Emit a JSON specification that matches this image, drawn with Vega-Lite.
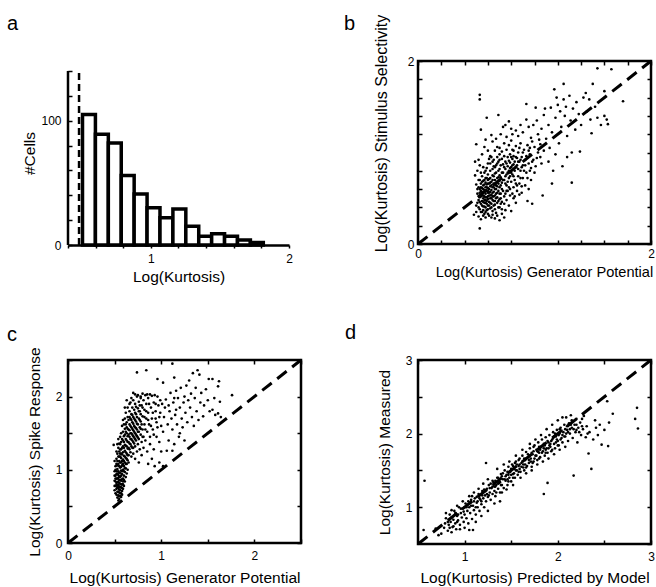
{
"$schema":"https://vega.github.io/schema/vega-lite/v6.json",
"padding":{"left":5,"top":13,"right":0,"bottom":0},
"config":{"font":"Liberation Sans","view":{"stroke":null},
"axis":{"grid":false,"domainColor":"black","tickColor":"black","labelColor":"black","titleColor":"black","labelFontSize":12,"titleFontSize":15.5,"titleFontWeight":"normal","labelFont":"Liberation Sans","titleFont":"Liberation Sans","tickWidth":1.5,"labelFlush":false,"labelOverlap":false,"labelBound":false},
"title":{"fontSize":20,"fontWeight":"normal","anchor":"start","frame":"group","color":"black","font":"Liberation Sans"}},
"datasets":{
"hist":[{"x":0.505,"x2":0.5985,"y":105},{"x":0.5985,"x2":0.692,"y":89},{"x":0.692,"x2":0.7855,"y":82},{"x":0.7855,"x2":0.879,"y":56},{"x":0.879,"x2":0.9725,"y":41},{"x":0.9725,"x2":1.066,"y":30},{"x":1.066,"x2":1.1595,"y":22},{"x":1.1595,"x2":1.253,"y":29},{"x":1.253,"x2":1.3465,"y":15},{"x":1.3465,"x2":1.44,"y":7},{"x":1.44,"x2":1.5335,"y":9},{"x":1.5335,"x2":1.627,"y":7},{"x":1.627,"x2":1.7205,"y":4},{"x":1.7205,"x2":1.814,"y":2}],
"b":[{"x":0.50,"y":0.42},{"x":0.51,"y":0.55},{"x":0.52,"y":0.48},{"x":0.52,"y":0.62},{"x":0.53,"y":0.38},{"x":0.53,"y":0.51},{"x":0.53,"y":0.70},{"x":0.54,"y":0.44},{"x":0.54,"y":0.58},{"x":0.54,"y":0.66},{"x":0.55,"y":0.35},{"x":0.55,"y":0.47},{"x":0.55,"y":0.53},{"x":0.55,"y":0.61},{"x":0.55,"y":0.74},{"x":0.56,"y":0.41},{"x":0.56,"y":0.50},{"x":0.56,"y":0.57},{"x":0.56,"y":0.64},{"x":0.56,"y":0.69},{"x":0.57,"y":0.33},{"x":0.57,"y":0.45},{"x":0.57,"y":0.52},{"x":0.57,"y":0.59},{"x":0.57,"y":0.78},{"x":0.58,"y":0.40},{"x":0.58,"y":0.48},{"x":0.58,"y":0.55},{"x":0.58,"y":0.62},{"x":0.58,"y":0.67},{"x":0.58,"y":0.72},{"x":0.59,"y":0.37},{"x":0.59,"y":0.44},{"x":0.59,"y":0.51},{"x":0.59,"y":0.58},{"x":0.59,"y":0.65},{"x":0.59,"y":0.83},{"x":0.60,"y":0.42},{"x":0.60,"y":0.49},{"x":0.60,"y":0.56},{"x":0.60,"y":0.61},{"x":0.60,"y":0.70},{"x":0.60,"y":0.76},{"x":0.61,"y":0.31},{"x":0.61,"y":0.46},{"x":0.61,"y":0.53},{"x":0.61,"y":0.60},{"x":0.61,"y":0.66},{"x":0.62,"y":0.39},{"x":0.62,"y":0.50},{"x":0.62,"y":0.57},{"x":0.62,"y":0.63},{"x":0.62,"y":0.72},{"x":0.62,"y":0.80},{"x":0.63,"y":0.44},{"x":0.63,"y":0.54},{"x":0.63,"y":0.59},{"x":0.63,"y":0.68},{"x":0.64,"y":0.36},{"x":0.64,"y":0.48},{"x":0.64,"y":0.62},{"x":0.64,"y":0.75},{"x":0.65,"y":0.42},{"x":0.65,"y":0.52},{"x":0.65,"y":0.57},{"x":0.65,"y":0.66},{"x":0.65,"y":0.85},{"x":0.66,"y":0.47},{"x":0.66,"y":0.60},{"x":0.66,"y":0.70},{"x":0.67,"y":0.34},{"x":0.67,"y":0.55},{"x":0.67,"y":0.64},{"x":0.67,"y":0.78},{"x":0.68,"y":0.45},{"x":0.68,"y":0.51},{"x":0.68,"y":0.68},{"x":0.69,"y":0.40},{"x":0.69,"y":0.58},{"x":0.69,"y":0.73},{"x":0.70,"y":0.49},{"x":0.70,"y":0.62},{"x":0.70,"y":0.82},{"x":0.71,"y":0.44},{"x":0.71,"y":0.55},{"x":0.72,"y":0.67},{"x":0.72,"y":0.38},{"x":0.52,"y":0.30},{"x":0.54,"y":0.27},{"x":0.50,"y":0.65},{"x":0.49,"y":0.75},{"x":0.51,"y":0.80},{"x":0.53,"y":0.86},{"x":0.50,"y":0.35},{"x":0.57,"y":0.65},{"x":0.58,"y":0.58},{"x":0.56,"y":0.46},{"x":0.60,"y":0.52},{"x":0.61,"y":0.71},{"x":0.55,"y":0.56},{"x":0.62,"y":0.45},{"x":0.59,"y":0.62},{"x":0.57,"y":0.41},{"x":0.63,"y":0.50},{"x":0.64,"y":0.56},{"x":0.66,"y":0.53},{"x":0.54,"y":0.52},{"x":0.56,"y":0.60},{"x":0.58,"y":0.45},{"x":0.60,"y":0.66},{"x":0.53,"y":0.60},{"x":0.51,"y":0.45},
{"x":0.53,"y":0.17},{"x":0.70,"y":0.26},{"x":0.74,"y":0.29},{"x":0.66,"y":0.28},{"x":0.72,"y":0.33},{"x":0.75,"y":0.37},{"x":0.78,"y":0.42},{"x":0.80,"y":0.36},{"x":0.68,"y":0.31},{"x":0.76,"y":0.48},{"x":0.74,"y":0.44},{"x":0.82,"y":0.50},{"x":0.84,"y":0.45},{"x":0.48,"y":0.32},{"x":0.63,"y":0.29},
{"x":0.62,"y":0.88},{"x":0.63,"y":0.95},{"x":0.64,"y":0.82},{"x":0.65,"y":0.92},{"x":0.66,"y":1.02},{"x":0.66,"y":0.77},{"x":0.67,"y":0.86},{"x":0.68,"y":0.95},{"x":0.68,"y":1.06},{"x":0.69,"y":0.80},{"x":0.69,"y":0.90},{"x":0.70,"y":0.98},{"x":0.70,"y":1.05},{"x":0.71,"y":0.73},{"x":0.71,"y":0.86},{"x":0.72,"y":0.93},{"x":0.72,"y":1.01},{"x":0.73,"y":0.78},{"x":0.73,"y":0.87},{"x":0.74,"y":0.70},{"x":0.74,"y":0.96},{"x":0.74,"y":1.10},{"x":0.75,"y":0.82},{"x":0.75,"y":0.90},{"x":0.76,"y":0.64},{"x":0.76,"y":0.76},{"x":0.76,"y":1.03},{"x":0.77,"y":0.85},{"x":0.77,"y":0.95},{"x":0.78,"y":0.72},{"x":0.78,"y":0.80},{"x":0.78,"y":1.08},{"x":0.79,"y":0.60},{"x":0.79,"y":0.89},{"x":0.79,"y":0.98},{"x":0.80,"y":0.68},{"x":0.80,"y":0.84},{"x":0.80,"y":1.13},{"x":0.81,"y":0.76},{"x":0.81,"y":0.93},{"x":0.82,"y":0.62},{"x":0.82,"y":0.87},{"x":0.82,"y":1.02},{"x":0.83,"y":0.70},{"x":0.83,"y":0.80},{"x":0.84,"y":0.95},{"x":0.84,"y":1.07},{"x":0.85,"y":0.58},{"x":0.85,"y":0.86},{"x":0.86,"y":0.74},{"x":0.86,"y":1.00},{"x":0.87,"y":0.66},{"x":0.87,"y":0.90},{"x":0.88,"y":0.80},{"x":0.88,"y":1.10},{"x":0.89,"y":0.56},{"x":0.89,"y":0.95},{"x":0.90,"y":0.72},{"x":0.90,"y":0.86},{"x":0.91,"y":1.03},{"x":0.92,"y":0.64},{"x":0.92,"y":0.92},{"x":0.93,"y":0.78},{"x":0.94,"y":1.08},{"x":0.95,"y":0.88},{"x":0.95,"y":0.60},{"x":0.96,"y":0.98},{"x":0.97,"y":0.70},{"x":0.97,"y":0.83},{"x":0.98,"y":1.12},{"x":0.99,"y":0.92},{"x":1.00,"y":0.78},{"x":0.65,"y":0.74},{"x":0.68,"y":0.72},{"x":0.70,"y":0.69},{"x":0.72,"y":0.60},{"x":0.75,"y":0.55},{"x":0.77,"y":0.58},{"x":0.79,"y":0.53},{"x":0.81,"y":0.55},{"x":0.83,"y":0.52},{"x":0.85,"y":0.64},{"x":0.87,"y":0.54},{"x":0.89,"y":0.63},
{"x":0.53,"y":1.63},{"x":0.53,"y":1.58},{"x":0.59,"y":1.38},{"x":0.69,"y":1.41},{"x":0.54,"y":1.25},{"x":0.58,"y":1.14},{"x":0.50,"y":1.09},{"x":0.49,"y":0.90},{"x":0.55,"y":0.98},{"x":0.57,"y":1.06},{"x":0.60,"y":1.02},{"x":0.61,"y":0.93},{"x":0.64,"y":1.12},{"x":0.63,"y":1.19},{"x":0.67,"y":1.15},{"x":0.71,"y":1.20},{"x":0.73,"y":1.28},{"x":0.75,"y":1.30},{"x":0.78,"y":1.34},{"x":0.80,"y":1.26},{"x":0.76,"y":1.17},{"x":0.81,"y":1.20},{"x":0.84,"y":1.24},{"x":0.86,"y":1.18},{"x":0.88,"y":1.30},{"x":0.90,"y":1.22},{"x":0.93,"y":1.36},{"x":0.93,"y":1.53},{"x":0.95,"y":1.28},{"x":0.97,"y":1.16},{"x":0.99,"y":1.30},{"x":1.01,"y":1.49},{"x":1.02,"y":1.35},{"x":1.03,"y":1.20},{"x":1.05,"y":1.09},{"x":1.06,"y":1.26},{"x":1.08,"y":1.41},{"x":1.09,"y":1.48},{"x":1.10,"y":1.15},{"x":1.12,"y":1.30},{"x":1.14,"y":1.49},{"x":1.15,"y":1.22},{"x":1.17,"y":1.69},{"x":1.18,"y":1.38},{"x":1.19,"y":1.60},{"x":1.20,"y":1.52},{"x":1.21,"y":1.10},{"x":1.22,"y":1.45},{"x":1.23,"y":1.28},{"x":1.25,"y":1.75},{"x":1.25,"y":1.58},{"x":1.26,"y":1.40},{"x":1.27,"y":1.50},{"x":1.28,"y":1.18},{"x":1.30,"y":1.62},{"x":1.31,"y":1.35},{"x":1.32,"y":1.00},{"x":1.33,"y":1.48},{"x":1.35,"y":1.25},{"x":1.36,"y":1.55},{"x":1.38,"y":1.42},{"x":1.39,"y":1.01},{"x":1.40,"y":1.30},{"x":1.42,"y":1.60},{"x":1.44,"y":1.65},{"x":1.45,"y":1.45},{"x":1.47,"y":1.58},{"x":1.48,"y":1.36},{"x":1.49,"y":1.21},{"x":1.50,"y":1.75},{"x":1.52,"y":1.50},{"x":1.54,"y":1.92},{"x":1.54,"y":1.38},{"x":1.57,"y":1.30},{"x":1.60,"y":1.67},{"x":1.60,"y":1.40},{"x":1.62,"y":1.36},{"x":1.63,"y":1.31},{"x":1.66,"y":1.91},{"x":1.76,"y":1.56},{"x":1.05,"y":0.95},{"x":1.08,"y":1.02},{"x":1.12,"y":0.90},{"x":1.15,"y":0.66},{"x":1.07,"y":0.53},{"x":0.94,"y":0.47},{"x":0.98,"y":0.44},{"x":1.32,"y":0.67},{"x":1.24,"y":0.85},{"x":1.18,"y":0.98},{"x":1.13,"y":1.05},{"x":1.01,"y":0.85},{"x":1.03,"y":1.00},{"x":0.96,"y":1.05},{"x":1.16,"y":0.80},{"x":1.28,"y":0.95},
{"x":0.51,"y":0.60},{"x":0.52,"y":0.40},{"x":0.52,"y":0.70},{"x":0.53,"y":0.46},{"x":0.53,"y":0.56},{"x":0.54,"y":0.35},{"x":0.54,"y":0.62},{"x":0.55,"y":0.42},{"x":0.55,"y":0.68},{"x":0.56,"y":0.37},{"x":0.56,"y":0.53},{"x":0.57,"y":0.48},{"x":0.57,"y":0.70},{"x":0.58,"y":0.35},{"x":0.58,"y":0.51},{"x":0.59,"y":0.47},{"x":0.59,"y":0.72},{"x":0.60,"y":0.38},{"x":0.60,"y":0.58},{"x":0.61,"y":0.42},{"x":0.61,"y":0.56},{"x":0.62,"y":0.53},{"x":0.62,"y":0.67},{"x":0.63,"y":0.40},{"x":0.63,"y":0.64},{"x":0.64,"y":0.52},{"x":0.64,"y":0.70},{"x":0.65,"y":0.47},{"x":0.65,"y":0.62},{"x":0.66,"y":0.43},{"x":0.66,"y":0.65},{"x":0.67,"y":0.50},{"x":0.67,"y":0.60},{"x":0.68,"y":0.56},{"x":0.68,"y":0.63},{"x":0.69,"y":0.47},{"x":0.69,"y":0.66},{"x":0.70,"y":0.55},{"x":0.70,"y":0.75},{"x":0.71,"y":0.50},{"x":0.71,"y":0.64},{"x":0.72,"y":0.46},{"x":0.72,"y":0.78},{"x":0.73,"y":0.58},{"x":0.73,"y":0.70},{"x":0.74,"y":0.52},{"x":0.74,"y":0.84},{"x":0.75,"y":0.66},{"x":0.75,"y":0.74},{"x":0.76,"y":0.58},{"x":0.76,"y":0.88},{"x":0.77,"y":0.68},{"x":0.77,"y":0.78},{"x":0.78,"y":0.62},{"x":0.78,"y":0.91},{"x":0.79,"y":0.74},{"x":0.79,"y":0.83},{"x":0.80,"y":0.78},{"x":0.80,"y":0.95},{"x":0.81,"y":0.86},{"x":0.81,"y":1.03},{"x":0.82,"y":0.74},{"x":0.82,"y":0.96},{"x":0.83,"y":0.90},{"x":0.84,"y":0.84},{"x":0.84,"y":0.66},{"x":0.85,"y":0.94},{"x":0.86,"y":0.82},{"x":0.86,"y":0.90},{"x":0.87,"y":1.05},{"x":0.88,"y":0.72},{"x":0.88,"y":0.92},{"x":0.89,"y":0.84},{"x":0.90,"y":1.00},{"x":0.91,"y":0.80},{"x":0.92,"y":0.86},{"x":0.93,"y":0.96},{"x":0.94,"y":0.72},{"x":0.95,"y":1.02},{"x":0.96,"y":0.80},{"x":0.98,"y":0.90},{"x":1.00,"y":1.06},{"x":1.02,"y":0.94},{"x":1.04,"y":1.14},{"x":1.06,"y":0.88},{"x":0.66,"y":0.84},{"x":0.68,"y":0.88},{"x":0.70,"y":0.92},{"x":0.64,"y":0.90},{"x":0.62,"y":0.96},{"x":0.60,"y":0.88},{"x":0.58,"y":0.80},{"x":0.56,"y":0.84},{"x":0.54,"y":0.78},{"x":0.52,"y":0.92},{"x":0.66,"y":0.38},{"x":0.70,"y":0.40},{"x":0.64,"y":0.32},{"x":0.60,"y":0.33},{"x":0.58,"y":0.29},{"x":0.56,"y":0.31}],
"c":[{"x":0.50,"y":0.72},{"x":0.50,"y":0.85},{"x":0.51,"y":0.78},{"x":0.51,"y":0.92},{"x":0.51,"y":1.05},{"x":0.52,"y":0.66},{"x":0.52,"y":0.74},{"x":0.52,"y":0.82},{"x":0.52,"y":0.98},{"x":0.52,"y":1.15},{"x":0.53,"y":0.62},{"x":0.53,"y":0.70},{"x":0.53,"y":0.79},{"x":0.53,"y":0.88},{"x":0.53,"y":1.01},{"x":0.53,"y":1.22},{"x":0.54,"y":0.65},{"x":0.54,"y":0.75},{"x":0.54,"y":0.84},{"x":0.54,"y":0.93},{"x":0.54,"y":1.08},{"x":0.54,"y":1.30},{"x":0.55,"y":0.60},{"x":0.55,"y":0.69},{"x":0.55,"y":0.77},{"x":0.55,"y":0.86},{"x":0.55,"y":0.96},{"x":0.55,"y":1.12},{"x":0.55,"y":1.25},{"x":0.56,"y":0.64},{"x":0.56,"y":0.72},{"x":0.56,"y":0.81},{"x":0.56,"y":0.90},{"x":0.56,"y":1.03},{"x":0.56,"y":1.18},{"x":0.56,"y":1.35},{"x":0.57,"y":0.68},{"x":0.57,"y":0.76},{"x":0.57,"y":0.85},{"x":0.57,"y":0.99},{"x":0.57,"y":1.10},{"x":0.57,"y":1.28},{"x":0.58,"y":0.71},{"x":0.58,"y":0.80},{"x":0.58,"y":0.94},{"x":0.58,"y":1.06},{"x":0.58,"y":1.21},{"x":0.58,"y":1.42},{"x":0.59,"y":0.74},{"x":0.59,"y":0.88},{"x":0.59,"y":1.00},{"x":0.59,"y":1.14},{"x":0.59,"y":1.32},{"x":0.60,"y":0.78},{"x":0.60,"y":0.92},{"x":0.60,"y":1.05},{"x":0.60,"y":1.19},{"x":0.60,"y":1.38},{"x":0.61,"y":0.84},{"x":0.61,"y":0.97},{"x":0.61,"y":1.10},{"x":0.61,"y":1.26},{"x":0.61,"y":1.48},{"x":0.62,"y":0.90},{"x":0.62,"y":1.02},{"x":0.62,"y":1.16},{"x":0.62,"y":1.33},{"x":0.63,"y":0.95},{"x":0.63,"y":1.08},{"x":0.63,"y":1.22},{"x":0.63,"y":1.40},{"x":0.63,"y":1.58},{"x":0.64,"y":1.00},{"x":0.64,"y":1.13},{"x":0.64,"y":1.29},{"x":0.64,"y":1.46},{"x":0.51,"y":0.68},{"x":0.52,"y":0.88},{"x":0.53,"y":0.95},{"x":0.54,"y":0.70},{"x":0.55,"y":0.82},{"x":0.56,"y":0.76},{"x":0.57,"y":0.92},{"x":0.58,"y":0.87},{"x":0.59,"y":0.80},{"x":0.60,"y":0.98},{"x":0.52,"y":1.08},{"x":0.54,"y":1.18},{"x":0.56,"y":1.22},{"x":0.55,"y":1.05},{"x":0.57,"y":1.16},{"x":0.59,"y":1.24},{"x":0.53,"y":0.76},{"x":0.54,"y":0.89},{"x":0.56,"y":0.96},{"x":0.58,"y":1.12},{"x":0.60,"y":1.30},{"x":0.61,"y":1.18},{"x":0.62,"y":1.08},{"x":0.50,"y":1.12},{"x":0.49,"y":1.34},{"x":0.50,"y":0.98},{"x":0.55,"y":0.64},{"x":0.57,"y":0.63},{"x":0.54,"y":0.58},{"x":0.58,"y":0.66},
{"x":0.62,"y":1.52},{"x":0.63,"y":1.65},{"x":0.64,"y":1.72},{"x":0.65,"y":1.20},{"x":0.65,"y":1.38},{"x":0.65,"y":1.55},{"x":0.66,"y":1.28},{"x":0.66,"y":1.45},{"x":0.66,"y":1.62},{"x":0.66,"y":1.80},{"x":0.67,"y":1.35},{"x":0.67,"y":1.50},{"x":0.67,"y":1.70},{"x":0.67,"y":1.92},{"x":0.68,"y":1.18},{"x":0.68,"y":1.42},{"x":0.68,"y":1.58},{"x":0.68,"y":1.76},{"x":0.69,"y":1.30},{"x":0.69,"y":1.48},{"x":0.69,"y":1.65},{"x":0.69,"y":1.85},{"x":0.70,"y":1.22},{"x":0.70,"y":1.38},{"x":0.70,"y":1.54},{"x":0.70,"y":1.72},{"x":0.70,"y":1.95},{"x":0.71,"y":1.44},{"x":0.71,"y":1.60},{"x":0.71,"y":1.82},{"x":0.72,"y":1.15},{"x":0.72,"y":1.32},{"x":0.72,"y":1.50},{"x":0.72,"y":1.68},{"x":0.72,"y":1.90},{"x":0.73,"y":1.40},{"x":0.73,"y":1.57},{"x":0.73,"y":1.76},{"x":0.74,"y":1.25},{"x":0.74,"y":1.46},{"x":0.74,"y":1.63},{"x":0.74,"y":2.00},{"x":0.75,"y":1.35},{"x":0.75,"y":1.52},{"x":0.75,"y":1.84},{"x":0.76,"y":1.10},{"x":0.76,"y":1.42},{"x":0.76,"y":1.70},{"x":0.76,"y":1.93},{"x":0.77,"y":1.28},{"x":0.77,"y":1.58},{"x":0.77,"y":1.80},{"x":0.78,"y":1.48},{"x":0.78,"y":1.66},{"x":0.78,"y":1.98},{"x":0.79,"y":1.20},{"x":0.79,"y":1.38},{"x":0.79,"y":1.88},{"x":0.80,"y":1.55},{"x":0.80,"y":1.73},{"x":0.81,"y":1.30},{"x":0.81,"y":1.45},{"x":0.81,"y":1.95},{"x":0.82,"y":1.62},{"x":0.82,"y":1.82},{"x":0.83,"y":1.40},{"x":0.83,"y":2.02},{"x":0.84,"y":1.70},{"x":0.84,"y":1.90},{"x":0.85,"y":1.52},{"x":0.85,"y":1.25},{"x":0.86,"y":1.78},{"x":0.86,"y":1.98},{"x":0.87,"y":1.62},{"x":0.88,"y":2.03},{"x":0.88,"y":1.45},{"x":0.89,"y":1.85},{"x":0.90,"y":1.70},{"x":0.90,"y":2.01},{"x":0.91,"y":1.55},{"x":0.92,"y":1.92},{"x":0.93,"y":2.02},{"x":0.94,"y":1.80},{"x":0.95,"y":1.65},{"x":0.96,"y":2.00},{"x":0.97,"y":1.88},{"x":0.98,"y":1.72},{"x":0.99,"y":1.95},{"x":1.00,"y":1.60},{"x":0.68,"y":1.98},{"x":0.66,"y":1.90},{"x":0.72,"y":2.03},{"x":0.70,"y":2.05},{"x":0.75,"y":2.02},{"x":0.80,"y":2.04},{"x":0.85,"y":2.03},{"x":0.78,"y":2.00},{"x":0.64,"y":1.85},{"x":0.63,"y":1.95},{"x":0.62,"y":1.78},{"x":0.60,"y":1.62},{"x":0.61,"y":1.70},{"x":0.59,"y":1.52},{"x":0.58,"y":1.60},{"x":0.57,"y":1.50},{"x":0.56,"y":1.45},{"x":0.59,"y":1.68},{"x":0.61,"y":1.85},
{"x":0.74,"y":2.33},{"x":0.84,"y":2.36},{"x":1.12,"y":2.45},{"x":0.96,"y":2.24},{"x":1.02,"y":2.19},{"x":1.14,"y":2.26},{"x":0.88,"y":1.35},{"x":0.92,"y":1.28},{"x":0.95,"y":1.45},{"x":0.98,"y":1.38},{"x":1.00,"y":1.25},{"x":1.02,"y":1.52},{"x":1.03,"y":1.72},{"x":1.04,"y":1.85},{"x":1.05,"y":1.96},{"x":1.06,"y":1.26},{"x":1.07,"y":1.62},{"x":1.08,"y":1.40},{"x":1.09,"y":1.80},{"x":1.10,"y":2.05},{"x":1.11,"y":1.70},{"x":1.12,"y":1.55},{"x":1.12,"y":1.26},{"x":1.13,"y":1.92},{"x":1.14,"y":1.35},{"x":1.15,"y":1.75},{"x":1.16,"y":2.08},{"x":1.17,"y":1.62},{"x":1.18,"y":1.98},{"x":1.19,"y":1.45},{"x":1.20,"y":1.85},{"x":1.21,"y":2.12},{"x":1.22,"y":1.70},{"x":1.23,"y":1.58},{"x":1.24,"y":1.92},{"x":1.25,"y":2.00},{"x":1.26,"y":1.78},{"x":1.27,"y":2.15},{"x":1.28,"y":1.65},{"x":1.29,"y":1.95},{"x":1.30,"y":2.22},{"x":1.31,"y":1.85},{"x":1.32,"y":2.04},{"x":1.33,"y":1.72},{"x":1.34,"y":2.32},{"x":1.35,"y":1.60},{"x":1.36,"y":1.98},{"x":1.37,"y":2.12},{"x":1.38,"y":1.80},{"x":1.39,"y":2.36},{"x":1.40,"y":1.68},{"x":1.41,"y":2.30},{"x":1.42,"y":1.92},{"x":1.43,"y":2.05},{"x":1.45,"y":1.73},{"x":1.46,"y":1.88},{"x":1.48,"y":2.10},{"x":1.50,"y":1.95},{"x":1.51,"y":2.24},{"x":1.52,"y":1.80},{"x":1.55,"y":2.24},{"x":1.55,"y":1.82},{"x":1.57,"y":1.98},{"x":1.58,"y":1.75},{"x":1.61,"y":2.14},{"x":1.61,"y":1.77},{"x":1.62,"y":2.21},{"x":1.63,"y":1.93},{"x":1.64,"y":1.72},{"x":1.76,"y":2.02},{"x":1.02,"y":1.05},{"x":0.98,"y":1.10},{"x":0.93,"y":1.05},{"x":0.90,"y":1.15},{"x":0.86,"y":1.08},{"x":0.96,"y":1.58},{"x":0.99,"y":1.78},{"x":1.01,"y":1.90},{"x":0.94,"y":1.70},{"x":1.08,"y":1.88},{"x":1.14,"y":1.98},{"x":1.20,"y":1.50},{"x":1.25,"y":1.40},{"x":1.16,"y":1.82},
{"x":0.51,"y":0.88},{"x":0.52,"y":0.79},{"x":0.52,"y":0.94},{"x":0.53,"y":0.83},{"x":0.53,"y":1.12},{"x":0.54,"y":0.79},{"x":0.54,"y":0.98},{"x":0.55,"y":0.73},{"x":0.55,"y":0.91},{"x":0.55,"y":1.18},{"x":0.56,"y":0.68},{"x":0.56,"y":0.86},{"x":0.56,"y":1.10},{"x":0.57,"y":0.80},{"x":0.57,"y":1.04},{"x":0.57,"y":1.22},{"x":0.58,"y":0.75},{"x":0.58,"y":0.98},{"x":0.58,"y":1.30},{"x":0.59,"y":0.84},{"x":0.59,"y":1.08},{"x":0.59,"y":1.40},{"x":0.60,"y":0.86},{"x":0.60,"y":1.12},{"x":0.60,"y":1.46},{"x":0.61,"y":1.02},{"x":0.61,"y":1.34},{"x":0.61,"y":1.56},{"x":0.62,"y":1.24},{"x":0.62,"y":1.42},{"x":0.62,"y":1.62},{"x":0.63,"y":1.15},{"x":0.63,"y":1.32},{"x":0.63,"y":1.50},{"x":0.64,"y":1.20},{"x":0.64,"y":1.38},{"x":0.64,"y":1.56},{"x":0.65,"y":1.10},{"x":0.65,"y":1.30},{"x":0.65,"y":1.48},{"x":0.65,"y":1.68},{"x":0.66,"y":1.36},{"x":0.66,"y":1.54},{"x":0.66,"y":1.72},{"x":0.67,"y":1.24},{"x":0.67,"y":1.42},{"x":0.67,"y":1.60},{"x":0.68,"y":1.32},{"x":0.68,"y":1.50},{"x":0.68,"y":1.68},{"x":0.69,"y":1.40},{"x":0.69,"y":1.56},{"x":0.69,"y":1.75},{"x":0.70,"y":1.30},{"x":0.70,"y":1.46},{"x":0.70,"y":1.63},{"x":0.71,"y":1.36},{"x":0.71,"y":1.52},{"x":0.71,"y":1.70},{"x":0.72,"y":1.42},{"x":0.72,"y":1.58},{"x":0.72,"y":1.78},{"x":0.73,"y":1.48},{"x":0.73,"y":1.66},{"x":0.73,"y":1.86},{"x":0.74,"y":1.55},{"x":0.74,"y":1.72},{"x":0.75,"y":1.44},{"x":0.75,"y":1.62},{"x":0.76,"y":1.52},{"x":0.76,"y":1.80},{"x":0.77,"y":1.68},{"x":0.77,"y":1.88},{"x":0.78,"y":1.56},{"x":0.78,"y":1.76},{"x":0.79,"y":1.62},{"x":0.80,"y":1.45},{"x":0.80,"y":1.85},{"x":0.82,"y":1.72},{"x":0.83,"y":1.55},{"x":0.84,"y":1.80},{"x":0.86,"y":1.68},{"x":0.87,"y":1.90},{"x":0.89,"y":1.60},{"x":0.91,"y":1.78},{"x":0.92,"y":1.48},{"x":0.94,"y":1.90},{"x":0.50,"y":0.78},{"x":0.51,"y":0.84},{"x":0.50,"y":0.92},{"x":0.51,"y":1.00},{"x":0.53,"y":1.06},{"x":0.52,"y":1.25},{"x":0.53,"y":1.35},{"x":0.54,"y":1.42},{"x":0.55,"y":1.36},{"x":0.56,"y":1.28},{"x":0.57,"y":1.38}],
"d":[{"x":0.56,"y":0.69},{"x":0.57,"y":1.36},{"x":0.69,"y":0.71},{"x":0.72,"y":0.62},{"x":0.75,"y":0.64},{"x":0.78,"y":0.72},{"x":0.80,"y":0.85},{"x":0.82,"y":0.68},{"x":0.83,"y":0.76},{"x":0.84,"y":0.90},{"x":0.85,"y":0.80},{"x":0.86,"y":0.66},{"x":0.87,"y":0.73},{"x":0.88,"y":0.83},{"x":0.89,"y":0.95},{"x":0.90,"y":0.78},{"x":0.91,"y":0.70},{"x":0.92,"y":0.88},{"x":0.93,"y":0.82},{"x":0.94,"y":1.00},{"x":0.95,"y":0.76},{"x":0.96,"y":0.92},{"x":0.97,"y":0.86},{"x":0.98,"y":0.98},{"x":0.99,"y":0.80},{"x":1.00,"y":0.90},{"x":1.01,"y":1.05},{"x":1.02,"y":0.85},{"x":1.03,"y":0.95},{"x":1.04,"y":0.78},{"x":1.05,"y":0.69},{"x":1.09,"y":0.69},{"x":1.05,"y":1.00},{"x":1.06,"y":0.92},{"x":1.07,"y":1.10},{"x":1.08,"y":0.84},{"x":1.09,"y":1.02},{"x":1.10,"y":0.96},{"x":1.11,"y":1.12},{"x":1.12,"y":0.90},{"x":1.13,"y":1.06},{"x":1.14,"y":1.00},{"x":1.15,"y":1.18},{"x":1.16,"y":0.95},{"x":1.17,"y":1.10},{"x":1.18,"y":1.04},{"x":1.19,"y":1.22},{"x":1.20,"y":1.12},{"x":1.21,"y":1.00},{"x":1.22,"y":1.16},{"x":1.23,"y":1.60},{"x":1.23,"y":1.08},{"x":1.24,"y":1.25},{"x":1.25,"y":1.14},{"x":1.26,"y":1.30},{"x":1.27,"y":1.20},{"x":1.28,"y":1.10},{"x":1.29,"y":1.26},{"x":1.30,"y":1.18},{"x":1.31,"y":1.34},{"x":1.32,"y":1.22},{"x":1.33,"y":1.15},{"x":1.34,"y":1.30},{"x":1.35,"y":1.40},{"x":1.36,"y":1.25},{"x":1.37,"y":1.33},{"x":1.38,"y":1.20},{"x":1.39,"y":1.45},{"x":1.40,"y":1.30},{"x":1.41,"y":1.38},{"x":1.42,"y":1.26},{"x":1.43,"y":1.50},{"x":1.44,"y":1.36},{"x":1.45,"y":1.44},{"x":1.46,"y":1.30},{"x":1.47,"y":1.55},{"x":1.48,"y":1.40},{"x":1.49,"y":1.48},{"x":1.50,"y":1.35},{"x":1.51,"y":1.58},{"x":1.52,"y":1.45},{"x":1.53,"y":1.52},{"x":1.54,"y":1.40},{"x":1.55,"y":1.62},{"x":1.56,"y":1.50},{"x":1.57,"y":1.44},{"x":1.58,"y":1.56},{"x":1.59,"y":1.66},{"x":1.60,"y":1.48},{"x":1.61,"y":1.55},{"x":1.62,"y":1.70},{"x":1.63,"y":1.58},{"x":1.64,"y":1.50},{"x":1.65,"y":1.64},{"x":1.66,"y":1.75},{"x":1.67,"y":1.56},{"x":1.68,"y":1.68},{"x":1.69,"y":1.60},{"x":1.70,"y":1.80},{"x":1.71,"y":1.66},{"x":1.72,"y":1.55},{"x":1.73,"y":1.72},{"x":1.74,"y":1.62},{"x":1.75,"y":1.84},{"x":1.76,"y":1.70},{"x":1.77,"y":1.78},{"x":1.78,"y":1.64},{"x":1.79,"y":1.88},{"x":1.80,"y":1.74},{"x":1.81,"y":1.68},{"x":1.82,"y":1.82},{"x":1.83,"y":1.92},{"x":1.84,"y":1.76},{"x":1.85,"y":1.18},{"x":1.85,"y":1.86},{"x":1.86,"y":1.70},{"x":1.87,"y":1.95},{"x":1.88,"y":1.80},{"x":1.89,"y":1.33},{"x":1.89,"y":1.74},{"x":1.90,"y":1.88},{"x":1.91,"y":1.98},{"x":1.92,"y":1.82},{"x":1.93,"y":1.76},{"x":1.94,"y":1.92},{"x":1.95,"y":2.02},{"x":1.96,"y":1.86},{"x":1.97,"y":1.80},{"x":1.98,"y":1.96},{"x":1.99,"y":2.05},{"x":2.00,"y":1.90},{"x":2.01,"y":1.84},{"x":2.02,"y":2.00},{"x":2.03,"y":2.08},{"x":2.04,"y":1.94},{"x":2.05,"y":1.88},{"x":2.06,"y":2.02},{"x":2.07,"y":2.12},{"x":2.08,"y":1.96},{"x":2.09,"y":2.22},{"x":2.10,"y":2.05},{"x":2.11,"y":1.90},{"x":2.12,"y":2.14},{"x":2.13,"y":2.00},{"x":2.14,"y":2.25},{"x":2.15,"y":2.08},{"x":2.16,"y":1.94},{"x":2.17,"y":1.43},{"x":2.18,"y":2.12},{"x":2.19,"y":2.02},{"x":2.20,"y":2.20},{"x":2.21,"y":1.88},{"x":2.22,"y":2.08},{"x":2.24,"y":2.15},{"x":2.25,"y":1.98},{"x":2.27,"y":2.06},{"x":2.28,"y":2.24},{"x":2.30,"y":1.95},{"x":2.31,"y":2.10},{"x":2.33,"y":1.73},{"x":2.34,"y":2.02},{"x":2.36,"y":1.52},{"x":2.38,"y":1.92},{"x":2.40,"y":2.18},{"x":2.41,"y":2.08},{"x":2.43,"y":1.98},{"x":2.45,"y":2.12},{"x":2.47,"y":1.85},{"x":2.50,"y":2.05},{"x":2.53,"y":2.44},{"x":2.54,"y":1.83},{"x":2.55,"y":2.15},{"x":2.59,"y":2.27},{"x":2.83,"y":2.20},{"x":2.85,"y":2.35},{"x":2.86,"y":2.07},
{"x":1.30,"y":1.28},{"x":1.33,"y":1.36},{"x":1.36,"y":1.32},{"x":1.40,"y":1.42},{"x":1.43,"y":1.38},{"x":1.46,"y":1.48},{"x":1.50,"y":1.52},{"x":1.53,"y":1.46},{"x":1.56,"y":1.58},{"x":1.59,"y":1.52},{"x":1.62,"y":1.62},{"x":1.65,"y":1.58},{"x":1.68,"y":1.72},{"x":1.71,"y":1.62},{"x":1.74,"y":1.76},{"x":1.77,"y":1.70},{"x":1.80,"y":1.82},{"x":1.83,"y":1.74},{"x":1.86,"y":1.84},{"x":1.89,"y":1.90},{"x":1.92,"y":1.86},{"x":1.95,"y":1.94},{"x":1.98,"y":1.88},{"x":2.01,"y":1.98},{"x":2.04,"y":2.04},{"x":2.07,"y":1.96},{"x":2.10,"y":2.10},{"x":2.13,"y":2.06},{"x":1.45,"y":1.24},{"x":1.52,"y":1.30},{"x":1.60,"y":1.40},{"x":1.66,"y":1.46},{"x":1.72,"y":1.50},{"x":1.78,"y":1.58},{"x":1.84,"y":1.62},{"x":1.90,"y":1.66},{"x":1.96,"y":1.72},{"x":2.02,"y":1.78},{"x":2.08,"y":1.82},{"x":1.35,"y":1.52},{"x":1.42,"y":1.58},{"x":1.48,"y":1.62},{"x":1.55,"y":1.70},{"x":1.62,"y":1.78},{"x":1.70,"y":1.86},{"x":1.76,"y":1.92},{"x":1.82,"y":1.98},{"x":1.88,"y":2.06},{"x":1.94,"y":2.12},{"x":2.00,"y":2.18},{"x":2.05,"y":2.22},{"x":1.20,"y":1.32},{"x":1.25,"y":1.38},{"x":1.15,"y":1.25},{"x":1.10,"y":1.20},{"x":1.05,"y":1.15},{"x":0.98,"y":1.08},{"x":0.92,"y":1.02},{"x":0.86,"y":0.96},{"x":0.80,"y":0.92},{"x":1.00,"y":0.72},{"x":1.12,"y":0.80},{"x":1.18,"y":0.88},{"x":1.25,"y":0.95},{"x":1.32,"y":1.05},{"x":1.38,"y":1.08},{"x":0.95,"y":0.70},{"x":1.08,"y":1.15},{"x":1.14,"y":1.08},{"x":1.22,"y":1.22},{"x":1.28,"y":1.32},{"x":1.34,"y":1.20},{"x":1.40,"y":1.20},{"x":1.47,"y":1.35},{"x":1.54,"y":1.60},{"x":1.58,"y":1.64},{"x":1.64,"y":1.66},{"x":1.70,"y":1.70},{"x":1.74,"y":1.82},{"x":1.79,"y":1.75},{"x":1.85,"y":1.80},{"x":1.91,"y":1.84},{"x":1.97,"y":2.00},{"x":2.03,"y":1.92},{"x":2.09,"y":2.00},{"x":2.15,"y":2.18},{"x":2.20,"y":2.05},{"x":2.26,"y":2.20},{"x":2.32,"y":2.00},
{"x":0.82,"y":0.80},{"x":0.86,"y":0.86},{"x":0.90,"y":0.92},{"x":0.93,"y":0.90},{"x":0.96,"y":0.98},{"x":0.99,"y":0.94},{"x":1.02,"y":1.00},{"x":1.04,"y":1.08},{"x":1.07,"y":1.02},{"x":1.10,"y":1.08},{"x":1.13,"y":1.14},{"x":1.16,"y":1.12},{"x":1.19,"y":1.16},{"x":1.21,"y":1.24},{"x":1.24,"y":1.18},{"x":1.27,"y":1.26},{"x":1.30,"y":1.36},{"x":1.33,"y":1.28},{"x":1.36,"y":1.40},{"x":1.38,"y":1.34},{"x":1.41,"y":1.46},{"x":1.44,"y":1.42},{"x":1.47,"y":1.44},{"x":1.50,"y":1.44},{"x":1.52,"y":1.56},{"x":1.55,"y":1.50},{"x":1.58,"y":1.48},{"x":1.61,"y":1.60},{"x":1.63,"y":1.54},{"x":1.66,"y":1.66},{"x":1.69,"y":1.64},{"x":1.72,"y":1.74},{"x":1.75,"y":1.66},{"x":1.78,"y":1.76},{"x":1.81,"y":1.78},{"x":1.84,"y":1.84},{"x":1.87,"y":1.78},{"x":1.90,"y":1.80},{"x":1.93,"y":1.90},{"x":1.96,"y":1.96},{"x":1.99,"y":1.92},{"x":2.02,"y":2.06},{"x":2.05,"y":1.98},{"x":2.08,"y":2.06},{"x":2.11,"y":2.02},{"x":2.14,"y":2.12},{"x":2.17,"y":2.06},{"x":2.20,"y":2.12},{"x":2.23,"y":2.02},{"x":2.26,"y":2.10},{"x":1.12,"y":1.00},{"x":1.18,"y":1.08},{"x":1.26,"y":1.16},{"x":1.32,"y":1.28},{"x":1.39,"y":1.30},{"x":1.46,"y":1.38},{"x":1.52,"y":1.40},{"x":1.59,"y":1.58},{"x":1.66,"y":1.54},{"x":1.73,"y":1.60},{"x":1.80,"y":1.66},{"x":1.87,"y":1.74},{"x":1.94,"y":1.78},{"x":2.00,"y":1.84},{"x":1.00,"y":1.00},{"x":1.06,"y":1.06},{"x":0.92,"y":0.80},{"x":0.88,"y":0.74},{"x":0.84,"y":0.72},{"x":0.79,"y":0.78}]
},
"bounds":"flush",
"columns":2,
"spacing":{"row":115,"column":117},
"concat":[
{"width":221,"height":184,
"title":{"text":"a","dx":-61,"dy":-23},
"resolve":{"axis":{"x":"independent","y":"independent"}},
"layer":[
{"data":{"name":"hist"},"mark":{"type":"bar","fill":"white","stroke":"black","strokeWidth":3.5},
"encoding":{
"x":{"field":"x","type":"quantitative","scale":{"domain":[0.4,2.0],"nice":false,"zero":false},"axis":{"orient":"bottom","title":"Log(Kurtosis)","values":[1,2],"format":"d","tickSize":3,"domainWidth":2.5,"labelPadding":5,"titlePadding":5}},
"x2":{"field":"x2"},
"y":{"field":"y","type":"quantitative","scale":{"domain":[0,148],"nice":false},"axis":{"orient":"left","title":"#Cells","values":[0,100],"format":"d","domain":false,"tickSize":-4,"labelPadding":11,"titlePadding":3}},
"y2":{"datum":0}}},
{"data":{"values":[{"x":0.4,"y":0,"y2":140}]},"mark":{"type":"rule","strokeWidth":2.5,"color":"black"},
"encoding":{
"x":{"field":"x","type":"quantitative","scale":{"domain":[0.4,2.0],"nice":false,"zero":false},"axis":{"orient":"bottom","title":null,"labels":false,"values":[0.4,0.6,0.8,1.2,1.4,1.6,1.8],"domain":false,"tickSize":3}},
"y":{"field":"y","type":"quantitative","scale":{"domain":[0,148],"nice":false},"axis":{"orient":"left","title":null,"labels":false,"values":[20,40,60,80,120,140],"domain":false,"tickSize":-4}},
"y2":{"field":"y2"}}},
{"data":{"values":[{"x":0.48,"y":0,"y2":140}]},"mark":{"type":"rule","strokeWidth":2.5,"strokeDash":[7,4],"color":"black"},
"encoding":{
"x":{"field":"x","type":"quantitative","scale":{"domain":[0.4,2.0],"nice":false,"zero":false},"axis":null},
"y":{"field":"y","type":"quantitative","scale":{"domain":[0,148],"nice":false},"axis":null},
"y2":{"field":"y2"}}}
]},
{"width":233,"height":183,
"title":{"text":"b","dx":-74,"dy":24},
"view":{"stroke":"black","strokeWidth":2.5},
"resolve":{"axis":{"x":"independent","y":"independent"}},
"layer":[
{"data":{"name":"b"},"mark":{"type":"circle","size":7,"color":"black","opacity":1},
"encoding":{
"x":{"field":"x","type":"quantitative","scale":{"domain":[0,2],"nice":false},"axis":{"title":"Log(Kurtosis) Generator Potential","titleFontSize":14.6,"values":[0,1,2],"format":"d","domain":false,"tickSize":-4,"labelPadding":8,"titlePadding":5,"titleX":126}},
"y":{"field":"y","type":"quantitative","scale":{"domain":[0,2],"nice":false},"axis":{"title":"Log(Kurtosis) Stimulus Selectivity","titleFontSize":16,"values":[0,1,2],"format":"d","domain":false,"tickSize":-4,"labelPadding":8,"titlePadding":18,"titleY":72}}}},
{"data":{"values":[{"x":0,"y":0,"x2":2,"y2":2}]},"mark":{"type":"rule","strokeWidth":3,"strokeDash":[12,7],"color":"black"},
"encoding":{
"x":{"field":"x","type":"quantitative","scale":{"domain":[0,2],"nice":false},"axis":{"orient":"top","title":null,"labels":false,"values":[0,0.2,0.4,0.6,0.8,1,1.2,1.4,1.6,1.8,2],"domain":false,"tickSize":-4}},
"y":{"field":"y","type":"quantitative","scale":{"domain":[0,2],"nice":false},"axis":{"orient":"right","title":null,"labels":false,"values":[0,0.2,0.4,0.6,0.8,1,1.2,1.4,1.6,1.8,2],"domain":false,"tickSize":-4}},
"x2":{"field":"x2"},"y2":{"field":"y2"}}},
{"data":{"values":[{"x":0,"y":0}]},"mark":{"type":"point","opacity":0},
"encoding":{
"x":{"field":"x","type":"quantitative","scale":{"domain":[0,2],"nice":false},"axis":{"orient":"bottom","title":null,"labels":false,"values":[0.2,0.4,0.6,0.8,1.2,1.4,1.6,1.8],"domain":false,"tickSize":-4}},
"y":{"field":"y","type":"quantitative","scale":{"domain":[0,2],"nice":false},"axis":{"orient":"left","title":null,"labels":false,"values":[0.2,0.4,0.6,0.8,1.2,1.4,1.6,1.8],"domain":false,"tickSize":-4}}}}
]},
{"width":233,"height":183,
"title":{"text":"c","dx":-61,"dy":2},
"view":{"stroke":"black","strokeWidth":2.5},
"resolve":{"axis":{"x":"independent","y":"independent"}},
"layer":[
{"data":{"name":"c"},"mark":{"type":"circle","size":7,"color":"black","opacity":1},
"encoding":{
"x":{"field":"x","type":"quantitative","scale":{"domain":[0,2.5],"nice":false},"axis":{"title":"Log(Kurtosis) Generator Potential","values":[0,1,2],"format":"d","domain":false,"tickSize":-4,"labelPadding":11,"titlePadding":9}},
"y":{"field":"y","type":"quantitative","scale":{"domain":[0,2.5],"nice":false},"axis":{"title":"Log(Kurtosis) Spike Response","values":[0,1,2],"format":"d","domain":false,"tickSize":-4,"labelPadding":10,"titlePadding":13}}}},
{"data":{"values":[{"x":0,"y":0,"x2":2.5,"y2":2.5}]},"mark":{"type":"rule","strokeWidth":3,"strokeDash":[12,7],"color":"black"},
"encoding":{
"x":{"field":"x","type":"quantitative","scale":{"domain":[0,2.5],"nice":false},"axis":{"orient":"top","title":null,"labels":false,"values":[0,0.5,1,1.5,2,2.5],"domain":false,"tickSize":-4}},
"y":{"field":"y","type":"quantitative","scale":{"domain":[0,2.5],"nice":false},"axis":{"orient":"right","title":null,"labels":false,"values":[0,0.5,1,1.5,2,2.5],"domain":false,"tickSize":-4}},
"x2":{"field":"x2"},"y2":{"field":"y2"}}},
{"data":{"values":[{"x":0,"y":0}]},"mark":{"type":"point","opacity":0},
"encoding":{
"x":{"field":"x","type":"quantitative","scale":{"domain":[0,2.5],"nice":false},"axis":{"orient":"bottom","title":null,"labels":false,"values":[0.5,1.5,2.5],"domain":false,"tickSize":-4}},
"y":{"field":"y","type":"quantitative","scale":{"domain":[0,2.5],"nice":false},"axis":{"orient":"left","title":null,"labels":false,"values":[0.5,1.5,2.5],"domain":false,"tickSize":-4}}}}
]},
{"width":233,"height":184,
"title":{"text":"d","dx":-73,"dy":-7},
"view":{"stroke":"black","strokeWidth":2.5},
"resolve":{"axis":{"x":"independent","y":"independent"}},
"layer":[
{"data":{"name":"d"},"mark":{"type":"circle","size":7,"color":"black","opacity":1},
"encoding":{
"x":{"field":"x","type":"quantitative","scale":{"domain":[0.5,3],"nice":false,"zero":false},"axis":{"title":"Log(Kurtosis) Predicted by Model","values":[1,2,3],"format":"d","domain":false,"tickSize":-4,"labelPadding":11,"titlePadding":8}},
"y":{"field":"y","type":"quantitative","scale":{"domain":[0.5,3],"nice":false,"zero":false},"axis":{"title":"Log(Kurtosis) Measured","values":[1,2,3],"format":"d","domain":false,"tickSize":-4,"labelPadding":10,"titlePadding":13}}}},
{"data":{"values":[{"x":0.5,"y":0.5,"x2":3,"y2":3}]},"mark":{"type":"rule","strokeWidth":3,"strokeDash":[12,7],"color":"black"},
"encoding":{
"x":{"field":"x","type":"quantitative","scale":{"domain":[0.5,3],"nice":false,"zero":false},"axis":{"orient":"top","title":null,"labels":false,"values":[0.5,1,1.5,2,2.5,3],"domain":false,"tickSize":-4}},
"y":{"field":"y","type":"quantitative","scale":{"domain":[0.5,3],"nice":false,"zero":false},"axis":{"orient":"right","title":null,"labels":false,"values":[0.5,1,1.5,2,2.5,3],"domain":false,"tickSize":-4}},
"x2":{"field":"x2"},"y2":{"field":"y2"}}},
{"data":{"values":[{"x":0.5,"y":0.5}]},"mark":{"type":"point","opacity":0},
"encoding":{
"x":{"field":"x","type":"quantitative","scale":{"domain":[0.5,3],"nice":false,"zero":false},"axis":{"orient":"bottom","title":null,"labels":false,"values":[1.5,2.5],"domain":false,"tickSize":-4}},
"y":{"field":"y","type":"quantitative","scale":{"domain":[0.5,3],"nice":false,"zero":false},"axis":{"orient":"left","title":null,"labels":false,"values":[1.5,2.5],"domain":false,"tickSize":-4}}}}
]}
]
}
